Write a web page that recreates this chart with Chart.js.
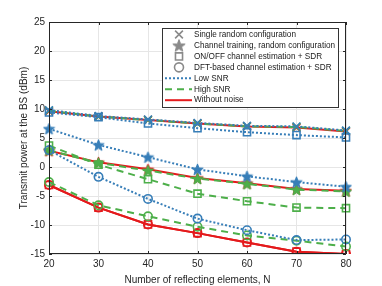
<!DOCTYPE html>
<html>
<head>
<meta charset="utf-8">
<script src="https://cdn.jsdelivr.net/npm/chart.js@4/dist/chart.umd.min.js"></script>
<style>
html, body { margin: 0; padding: 0; background: #fff; }
#wrap { width: 382px; height: 286px; }
</style>
</head>
<body>
<div id="wrap"><canvas id="myChart"></canvas></div>
<script>
// number of reflecting elements
var elements = [20, 30, 40, 50, 60, 70, 80];
var yTicks = [-15, -10, -5, 0, 5, 10, 15, 20, 25];

// single random configuration
var randLow   = [9.8, 8.8, 8.2, 7.6, 7.1, 7.0, 6.3];
var randHigh  = [9.7, 8.7, 8.1, 7.5, 7.0, 6.9, 6.2];
var randClean = [9.6, 8.7, 8.1, 7.5, 7.0, 6.8, 6.1];

// channel training, random configuration
var trainLow   = [6.6, 3.8, 1.7, -0.4, -1.6, -2.6, -3.4];
var trainHigh  = [2.9, 0.7, -0.6, -2.0, -2.9, -3.9, -4.2];
var trainClean = [2.8, 0.8, -0.4, -1.9, -2.8, -3.8, -4.1];

// ON/OFF channel estimation + SDR
var onoffLow   = [9.4, 8.6, 7.5, 6.7, 6.0, 5.5, 5.1];
var onoffHigh  = [3.7, 0.4, -2.1, -4.6, -5.9, -7.0, -7.1];
var onoffClean = [-3.1, -7.0, -9.9, -11.4, -13.0, -14.6, -15.0];

// DFT-based channel estimation + SDR
var dftLow   = [2.9, -1.7, -5.5, -8.9, -10.9, -12.6, -12.5];
var dftHigh  = [-2.6, -6.6, -8.5, -10.3, -11.8, -12.7, -13.7];
var dftClean = [-3.1, -7.0, -9.9, -11.4, -13.0, -14.6, -15.0];

var markerNames = ['Single random configuration', 'Channel training, random configuration',
  'ON/OFF channel estimation + SDR', 'DFT-based channel estimation + SDR'];
var lineNames = ['Low SNR', 'High SNR', 'Without noise'];

var BLUE = '#377eb8', GREEN = '#4daf4a', RED = '#e41a1c', GRAY = '#8a8a8a';
var FONT = "'Liberation Sans', Arial, Helvetica, sans-serif";

// filled pentagram as a point image
function makeStar(color, r) {
  var c = document.createElement('canvas');
  var s = Math.ceil(r * 2 + 3);
  c.width = s; c.height = s;
  var g = c.getContext('2d');
  g.beginPath();
  for (var i = 0; i < 10; i++) {
    var rr = i % 2 ? r * 0.42 : r;
    var a = -Math.PI / 2 + i * Math.PI / 5;
    g.lineTo(s / 2 + rr * Math.cos(a), s / 2 + 0.6 + rr * Math.sin(a));
  }
  g.closePath();
  g.fillStyle = color; g.fill();
  g.lineWidth = 1; g.strokeStyle = color; g.stroke();
  return c;
}

var dashes = { low: [2, 2], high: [7, 5], clean: [] };

function ds(data, color, dash, style) {
  var isStar = style === 'star';
  return {
    data: data,
    borderColor: color,
    borderDash: dash,
    borderWidth: 2,
    fill: false,
    tension: 0,
    pointStyle: isStar ? makeStar(color, 6) : style,
    pointRadius: style === 'rect' ? 5 : (style === 'crossRot' ? 5.5 : 4.2),
    pointBorderColor: color,
    pointBackgroundColor: 'rgba(0,0,0,0)',
    pointBorderWidth: 1.6
  };
}

var datasets = [
  ds(randLow, BLUE, dashes.low, 'crossRot'),
  ds(trainLow, BLUE, dashes.low, 'star'),
  ds(onoffLow, BLUE, dashes.low, 'rect'),
  ds(dftLow, BLUE, dashes.low, 'circle'),
  ds(randHigh, GREEN, dashes.high, 'crossRot'),
  ds(trainHigh, GREEN, dashes.high, 'star'),
  ds(onoffHigh, GREEN, dashes.high, 'rect'),
  ds(dftHigh, GREEN, dashes.high, 'circle'),
  ds(randClean, RED, dashes.clean, 'crossRot'),
  ds(trainClean, RED, dashes.clean, 'star'),
  ds(onoffClean, RED, dashes.clean, 'rect'),
  ds(dftClean, RED, dashes.clean, 'circle')
];

// box around the axes with inner tick marks
var framePlugin = {
  id: 'frame',
  afterDatasetsDraw: function(chart) {
    var ctx = chart.ctx, a = chart.chartArea;
    var xs = chart.scales.x, ys = chart.scales.y;
    ctx.save();
    ctx.strokeStyle = '#262626';
    ctx.lineWidth = 1;
    ctx.beginPath();
    ctx.rect(a.left + 0.5, a.top + 0.5, a.right - a.left - 1, a.bottom - a.top - 1);
    xs.ticks.forEach(function(t, i) {
      var px = Math.round(xs.getPixelForTick(i)) + 0.5;
      ctx.moveTo(px, a.bottom); ctx.lineTo(px, a.bottom - 3);
      ctx.moveTo(px, a.top); ctx.lineTo(px, a.top + 3);
    });
    ys.ticks.forEach(function(t) {
      var py = Math.round(ys.getPixelForValue(t.value)) + 0.5;
      ctx.moveTo(a.left, py); ctx.lineTo(a.left + 3, py);
      ctx.moveTo(a.right, py); ctx.lineTo(a.right - 3, py);
    });
    ctx.stroke();
    ctx.restore();
  }
};

// legend drawn inside the axes, top right
var legendPlugin = {
  id: 'innerLegend',
  afterDraw: function(chart) {
    var ctx = chart.ctx, a = chart.chartArea;
    var w = 176, h = 79;
    var left = a.right - 8 - w, top = a.top + 6;
    ctx.save();
    ctx.fillStyle = '#fff';
    ctx.fillRect(left, top, w, h);
    ctx.strokeStyle = '#333';
    ctx.lineWidth = 1;
    ctx.strokeRect(Math.round(left) + 0.5, Math.round(top) + 0.5, w, h);
    ctx.font = '8.2px ' + FONT;
    ctx.textBaseline = 'middle';
    ctx.textAlign = 'left';
    var styles = ['crossRot', 'star', 'rect', 'circle'];
    var rowY = function(i) { return top + 6.5 + i * 10.95; };
    styles.forEach(function(st, i) {
      var y = rowY(i), x = left + 17;
      if (st === 'star') {
        var img = makeStar(GRAY, 6.5);
        ctx.drawImage(img, x - img.width / 2, y - img.height / 2);
      } else {
        ctx.lineWidth = 1.6;
        ctx.strokeStyle = GRAY;
        ctx.fillStyle = 'rgba(0,0,0,0)';
        Chart.helpers.drawPoint(ctx, {
          pointStyle: st,
          radius: st === 'rect' ? 5 : (st === 'crossRot' ? 5.5 : 4.5),
          borderWidth: 1.6
        }, x, y);
      }
      ctx.fillStyle = '#1a1a1a';
      ctx.fillText(markerNames[i], left + 32, y);
    });
    var lc = [BLUE, GREEN, RED], ld = [dashes.low, dashes.high, dashes.clean];
    lineNames.forEach(function(name, j) {
      var y = rowY(4 + j);
      ctx.beginPath();
      ctx.setLineDash(ld[j]);
      ctx.strokeStyle = lc[j];
      ctx.lineWidth = 2;
      ctx.moveTo(left + 3, y); ctx.lineTo(left + 30, y);
      ctx.stroke();
      ctx.setLineDash([]);
      ctx.fillStyle = '#1a1a1a';
      ctx.fillText(name, left + 32, y);
    });
    ctx.restore();
  }
};

var ctx = document.getElementById('myChart');

new Chart(ctx, {
  type: 'line',
  data: {
    labels: elements,
    datasets: datasets
  },
  options: {
    responsive: true,
    maintainAspectRatio: false,
    animation: false,
    layout: { padding: { top: 22, right: 36, bottom: 0, left: 0 } },
    plugins: {
      legend: { display: false },
      tooltip: { enabled: false }
    },
    scales: {
      x: {
        type: 'category',
        offset: false,
        grid: { color: '#e6e6e6', drawTicks: false },
        border: { display: false },
        ticks: { color: '#262626', font: { family: FONT, size: 10 }, padding: 4, maxRotation: 0 },
        title: { display: true, text: 'Number of reflecting elements, N', color: '#262626',
                 font: { family: FONT, size: 10 }, padding: { top: 4, bottom: 0 } },
        afterFit: function(s) { s.height = 32; }
      },
      y: {
        min: -15,
        max: 25,
        grid: { color: '#e6e6e6', drawTicks: false },
        border: { display: false },
        afterBuildTicks: function(s) { s.ticks = yTicks.map(function(v) { return { value: v }; }); },
        ticks: { color: '#262626', font: { family: FONT, size: 10 }, padding: 4 },
        title: { display: true, text: 'Transmit power at the BS (dBm)', color: '#262626',
                 font: { family: FONT, size: 10 }, padding: { top: 18, bottom: 0 } },
        afterFit: function(s) { s.width = 49; }
      }
    }
  },
  plugins: [framePlugin, legendPlugin]
});
</script>
</body>
</html>
